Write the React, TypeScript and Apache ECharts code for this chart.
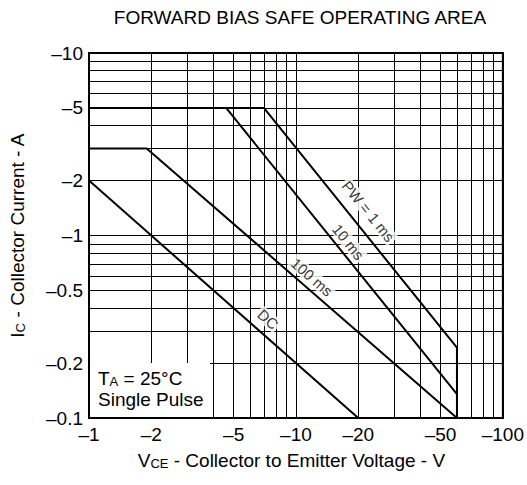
import React, { useEffect, useRef } from 'react';
import * as echarts from 'echarts';

const FONT = '"Liberation Sans", Arial, Helvetica, sans-serif';

const chartTitle = 'FORWARD BIAS SAFE OPERATING AREA';
const xTickValues = [1, 2, 3, 4, 5, 6, 7, 8, 9, 10, 20, 30, 40, 50, 60, 70, 80, 90, 100];
const xLabelValues = [1, 2, 5, 10, 20, 50, 100];
const yTickValues = [0.1, 0.2, 0.3, 0.4, 0.5, 0.6, 0.7, 0.8, 0.9, 1, 2, 3, 4, 5, 6, 7, 8, 9, 10];
const yLabelValues = [0.1, 0.2, 0.5, 1, 2, 5, 10];

// |VCE| (V), |IC| (A)
const pw1ms = [[1, 5], [7, 5], [60, 0.243], [60, 0.1]];
const pw10ms = [[4.6, 5], [60, 0.135]];
const pw100ms = [[1, 3], [1.9, 3], [60, 0.1]];
const dcLine = [[1, 2], [20, 0.1]];

const curveLabelNames = ['PW = 1 ms', '10 ms', '100 ms', 'DC'];
const curveLabelPoints = [[22.4, 1.357], [17.9, 0.921], [11.94, 0.592], [7.33, 0.3475]];
const curveLabelAngles = [-51, -51, -41, -41];

const noteLines = ['T|A| = 25°C', 'Single Pulse'];

const fmt = (v: number) => '\u2013' + String(+v.toPrecision(6));

export default function App() {
  const ref = useRef<HTMLDivElement>(null);
  useEffect(() => {
    const chart = echarts.init(ref.current!, null, { renderer: 'svg' });
    const lineStyle = { color: '#000', width: 2 };
    const mkLine = (name: string, data: number[][]) => ({
      name,
      type: 'line',
      data,
      showSymbol: false,
      symbol: 'none',
      lineStyle,
      z: 5,
      silent: true,
    });
    const nameRich = {
      n: { fontFamily: FONT, fontSize: 19, color: '#000', verticalAlign: 'bottom', lineHeight: 21 },
      s: { fontFamily: FONT, fontSize: 13, color: '#000', verticalAlign: 'bottom', lineHeight: 19 },
    };
    const nt1 = noteLines[0].split('|');
    const nt2 = noteLines[1];
    chart.setOption({
      animation: false,
      backgroundColor: '#fff',
      textStyle: { fontFamily: FONT },
      title: {
        text: chartTitle,
        left: 300,
        top: 8,
        padding: 0,
        textAlign: 'center',
        textStyle: { fontFamily: FONT, fontSize: 19, fontWeight: 'normal', color: '#000' },
      },
      grid: {
        left: 89,
        right: 20,
        top: 53,
        bottom: 67,
        show: true,
        borderColor: '#000',
        borderWidth: 2,
        backgroundColor: 'transparent',
      },
      xAxis: {
        type: 'log',
        logBase: 10,
        min: 1,
        max: 100,
        name: '{n|V}{s|CE}{n| - Collector to Emitter Voltage - V}',
        nameLocation: 'middle',
        nameGap: 31,
        nameTextStyle: { rich: nameRich, padding: [0, 9, 0, 0] },
        axisLine: { show: true, lineStyle: { color: '#000', width: 2 } },
        axisTick: { show: false, customValues: xTickValues },
        axisLabel: {
          customValues: xLabelValues,
          formatter: fmt,
          fontFamily: FONT,
          fontSize: 19,
          color: '#000',
          margin: 7,
          showMinLabel: true,
          showMaxLabel: true,
        },
        splitLine: { show: true, lineStyle: { color: '#000', width: 1 } },
      },
      yAxis: {
        type: 'log',
        logBase: 10,
        min: 0.1,
        max: 10,
        name: '{n|I}{s|C}{n| - Collector Current - A}',
        nameLocation: 'middle',
        nameGap: 62,
        nameRotate: 90,
        nameTextStyle: { rich: nameRich },
        axisLine: { show: true, lineStyle: { color: '#000', width: 2 } },
        axisTick: { show: false, customValues: yTickValues },
        axisLabel: {
          customValues: yLabelValues,
          formatter: fmt,
          fontFamily: FONT,
          fontSize: 19,
          color: '#000',
          margin: 6,
          showMinLabel: true,
          showMaxLabel: true,
        },
        splitLine: { show: true, lineStyle: { color: '#000', width: 1 } },
      },
      series: [
        mkLine('PW = 1 ms', pw1ms),
        mkLine('10 ms', pw10ms),
        mkLine('100 ms', pw100ms),
        mkLine('DC', dcLine),
        {
          type: 'scatter',
          symbolSize: 0,
          silent: true,
          z: 6,
          data: curveLabelNames.map((n, i) => ({
            name: n,
            value: curveLabelPoints[i],
            label: { rotate: curveLabelAngles[i] },
          })),
          label: {
            show: true,
            position: 'inside',
            formatter: '{b}',
            fontFamily: FONT,
            fontSize: 15,
            color: '#000',
            backgroundColor: '#fff',
            padding: [0, 2],
          },
        },
      ],
      graphic: [
        {
          type: 'rect',
          z: 100,
          shape: { x: 90, y: 363, width: 120, height: 54 },
          style: { fill: '#fff' },
        },
        {
          type: 'text',
          z: 101,
          x: 98,
          y: 367,
          style: {
            text: `{n|${nt1[0]}}{s|${nt1[1]}}{n|${nt1[2]}}\n{n|${nt2}}`,
            rich: {
              n: { fontFamily: FONT, fontSize: 19, fill: '#000', verticalAlign: 'bottom', lineHeight: 21 },
              s: { fontFamily: FONT, fontSize: 13, fill: '#000', verticalAlign: 'bottom', lineHeight: 19 },
            },
            fill: '#000',
          },
        },
      ],
    });
    return () => chart.dispose();
  }, []);
  return <div ref={ref} style={{ position: 'fixed', left: 0, top: 0, width: 527, height: 485 }} />;
}
